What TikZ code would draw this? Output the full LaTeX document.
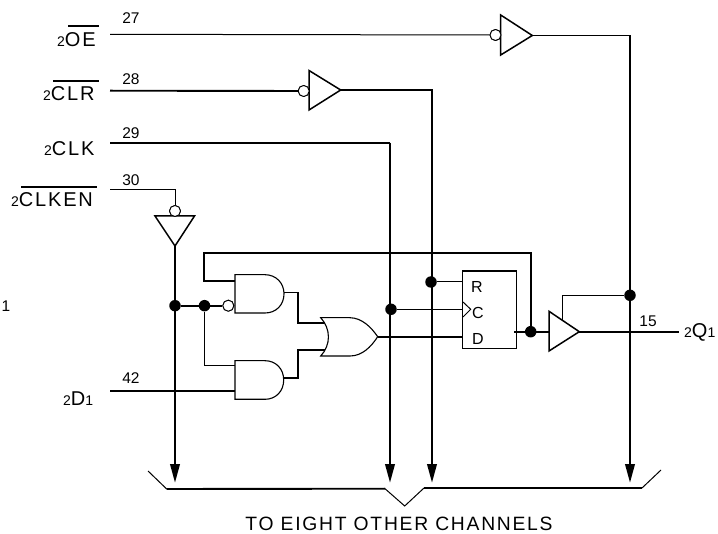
\documentclass[tikz,border=0pt]{standalone}
\usepackage{fontspec}
\setmainfont{Liberation Sans}
\newfontfamily\spaced[LetterSpace=9]{Liberation Sans}
\usetikzlibrary{arrows.meta}
\tikzset{
 thin wire/.style={line width=1pt},
 thick wire/.style={line width=1.9pt},
 gate/.style={line width=1.1pt,fill=white,line join=miter},
 tri/.style={line width=1.5pt,fill=white,line join=miter},
 dot/.style={circle,fill=black,inner sep=0pt,minimum size=11.5pt},
 bubble/.style={circle,draw,fill=white,line width=0.9pt,inner sep=0pt,minimum size=11pt},
 pin/.style={font=\fontsize{15.5}{15.5}\selectfont,inner sep=0pt},
 big/.style={font=\spaced\fontsize{20}{20}\selectfont,inner sep=0pt,anchor=base west},
 ff/.style={font=\fontsize{16}{16}\selectfont,inner sep=0pt},
 busarrow/.style={thick wire,-{Triangle[length=18.5pt,width=9.5pt]}},
 bar/.style={line width=1.8pt},
}
\newcommand{\sm}[1]{{\fontsize{14}{14}\selectfont #1}}
\begin{document}
\begin{tikzpicture}[x=1pt,y=-1pt]
\useasboundingbox (0,0) rectangle (718,534);
% labels
\node[big] (lOE) at (57,46.7) {\sm{2}OE};
\node[big] (lCLR) at (43,100.7) {\sm{2}CLR};
\node[big] (lCLK) at (44,156) {\sm{2}CLK};
\node[big] (lCLKEN) at (11,206.7) {\sm{2}CLKEN};
\node[big] (lD) at (63,406) {\sm{2}D\sm{1}};
\node[big] (lQ) at (684,338) {\sm{2}Q\sm{1}};
\node[pin] (stray) at (6,306) {1};
\draw[bar] (68,25.7) -- (99,25.7);
\draw[bar] (53,81) -- (99,81);
\draw[bar] (21,187) -- (97,187);
\node[pin] (p27) at (131,18) {27};
\node[pin] (p28) at (131,79) {28};
\node[pin] (p29) at (131,133) {29};
\node[pin] (p30) at (131,180) {30};
\node[pin] (p42) at (131,378) {42};
\node[pin] (p15) at (648,321) {15};
% free ends
\coordinate (iOE) at (110,34.3);
\coordinate (iCLR) at (110,90.7);
\coordinate (iCLK) at (110,142.7);
\coordinate (iCLKEN) at (110,189.3);
\coordinate (iD) at (110,391);
\coordinate (oQ) at (679,331.7);
\coordinate (bA) at (175,482.7);
\coordinate (bB) at (390,482.7);
\coordinate (bC) at (432,482.7);
\coordinate (bD) at (630,482.7);
% OE path
\node[bubble] (bOE) at (495.5,35) {};
\coordinate (tOEo) at (532.3,35.5);
\draw[thin wire] (iOE) -- (bOE);
% CLR path
\node[bubble] (bCLR) at (303.7,91) {};
\coordinate (tCLRo) at (340.7,90);
\draw[thick wire] (iCLR) -- (bCLR);
% CLK
\coordinate (cCLK) at (390,142.7);
\draw[thick wire] (iCLK) -- (cCLK);
% CLKEN
\node[bubble] (bEN) at (175,211) {};
\draw[thin wire] (iCLKEN) -| (bEN);
\coordinate (tENo) at (175,246);
% vertical bus lines
\draw[busarrow] (tENo) -- (bA);
\draw[busarrow] (cCLK) -- (bB);
\draw[busarrow] (tCLRo) -| (bC);
\draw[busarrow] (tOEo) -| (bD);
% inverters
\draw[tri] (500.7,15) -- (tOEo) -- (500.7,55) -- cycle;
\node[bubble] at (bOE) {};
\draw[tri] (309,70.5) -- (tCLRo) -- (309,110) -- cycle;
\node[bubble] at (bCLR) {};
\draw[tri] (155,216) -- (194.5,216) -- (tENo) -- cycle;
\node[bubble] at (bEN) {};
% junctions
\node[dot] (d1) at (175,305.7) {};
\node[dot] (d2) at (204.5,305.7) {};
\node[dot] (dC) at (391,309.3) {};
\node[dot] (dR) at (431,282) {};
\node[dot] (dQ) at (530.7,331.7) {};
\node[dot] (dOE) at (630,295.3) {};
\node[bubble] (bA1) at (228.3,305.7) {};
% coordinates for gates
\coordinate (a1t) at (235,281);
\coordinate (a1o) at (284,292.5);
\coordinate (a2t) at (235,366);
\coordinate (a2b) at (235,391);
\coordinate (a2o) at (283.7,377.7);
\coordinate (ot) at (327,322.7);
\coordinate (ob) at (327,350);
\coordinate (oo) at (377.7,336.7);
\coordinate (fR) at (463,282);
\coordinate (fC) at (463,309.3);
\coordinate (fD) at (463,336.7);
\coordinate (fQ) at (514,331.7);
\coordinate (tQi) at (549,331.7);
\coordinate (tQo) at (579.3,331.7);
\coordinate (tQe) at (562.7,320);
\coordinate (tl) at (204,252.7);
\coordinate (ml) at (297.7,322.7);
\coordinate (mr) at (297.7,350);
% wires
\draw[thick wire] (d1) -- (bA1);
\draw[thick wire] (d2) -- (204.5,366);
\draw[thin wire] (204.5,366) -- (a2t);
\draw[thick wire] (iD) -- (a2b);
\draw[thick wire] (a1t) -| (tl) -| (dQ);
\draw[thick wire] (a1o) -| (ml) -- (ot);
\draw[thick wire] (a2o) -| (mr) -- (ob);
\draw[thick wire] (oo) -- (fD);
\draw[thin wire] (dC) -- (fC);
\draw[thin wire] (dR) -- (fR);
\draw[thick wire] (fQ) -- (tQi);
\draw[thick wire] (tQo) -- (oQ);
\draw[line width=1.2pt] (tQe) |- (dOE);
% gates
\draw[gate] (235,274.7) -- (265,274.7) .. controls (276,274.7) and (284,283) .. (284,293.8)
  .. controls (284,305) and (276,313) .. (265,313) -- (235,313) -- cycle;
\draw[gate] (235,360.7) -- (265,360.7) .. controls (276,360.7) and (283.7,369) .. (283.7,380)
  .. controls (283.7,391) and (276,399.3) .. (265,399.3) -- (235,399.3) -- cycle;
\draw[gate] (320.7,317.7) -- (350,317.7) .. controls (362,318) and (371,327) .. (oo)
  .. controls (371,347) and (362,356) .. (350,356) -- (320.7,356)
  .. controls (331,345) and (331,329) .. (320.7,317.7) -- cycle;
\node[bubble] at (bA1) {};
% flip-flop
\draw[line width=1.1pt,fill=white] (462.7,270.7) rectangle (516.3,348.3);
\draw[thick wire] (462.7,270.7) -- (516.3,270.7);
\draw[thin wire] (463,302) -- (470.7,309.3) -- (463,317);
\draw[thick wire] (fQ) -- (dQ);
\node[ff] (tR) at (477,287) {R};
\node[ff] (tC) at (478,313) {C};
\node[ff] (tD) at (478,339) {D};
% output tri
\draw[tri] (549,311.3) -- (tQo) -- (549,351) -- cycle;
% bus bracket
\coordinate (bl) at (148,471);
\coordinate (bl2) at (166.7,489);
\coordinate (nl) at (385,488.7);
\coordinate (nb) at (404.7,506);
\coordinate (nr) at (424,488);
\coordinate (br2) at (642,488);
\coordinate (br) at (661,470);
\draw[thin wire] (bl) -- (bl2);
\draw[thick wire] (bl2) -- (nl);
\draw[thin wire] (nl) -- (nb) -- (nr);
\draw[thick wire] (nr) -- (br2);
\draw[thin wire] (br2) -- (br);
\node[inner sep=0pt,anchor=base,font=\spaced\fontsize{19.3}{19.3}\selectfont] (tb) at (399,530.5) {TO EIGHT OTHER CHANNELS};
\end{tikzpicture}
\end{document}
